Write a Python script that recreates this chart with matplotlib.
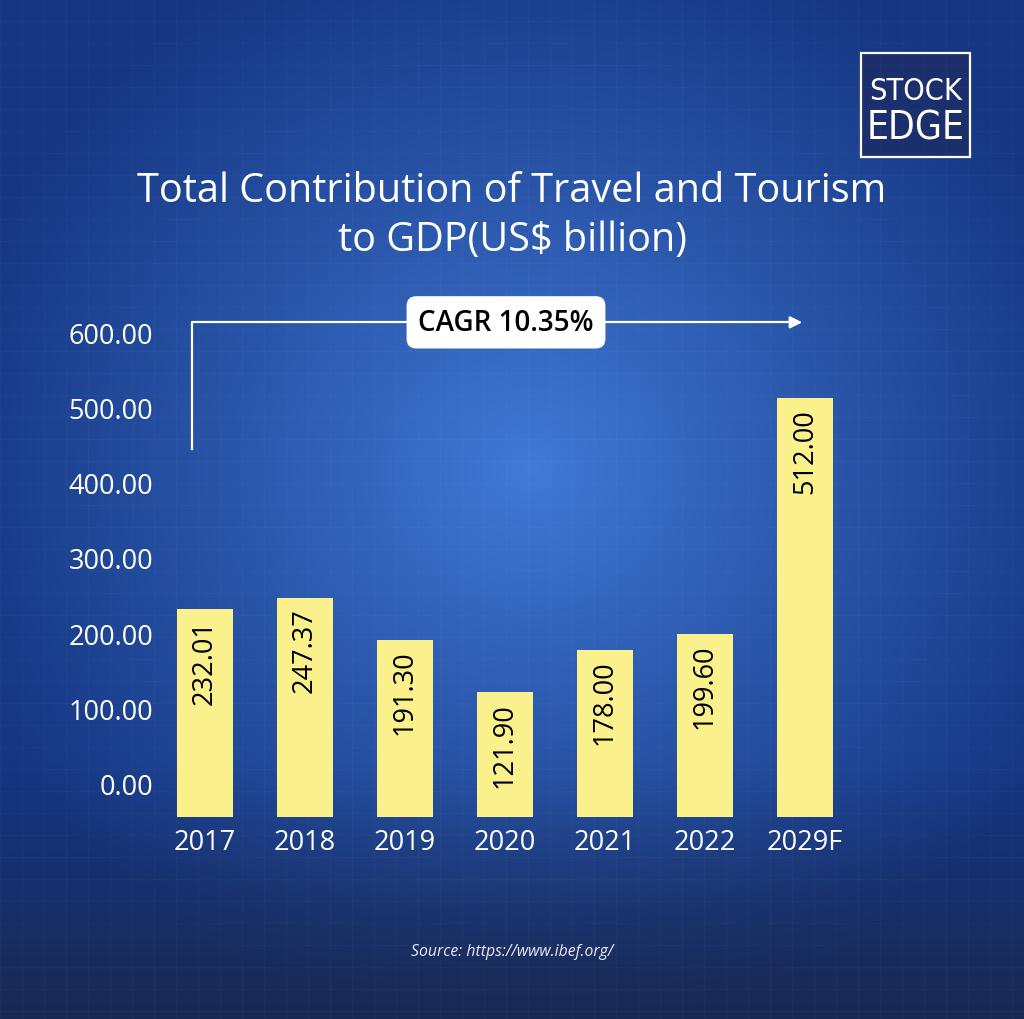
import numpy as np
import matplotlib
matplotlib.use("Agg")
import matplotlib.pyplot as plt
from matplotlib.patches import Rectangle

years = ["2017", "2018", "2019", "2020", "2021", "2022", "2029F"]
values = [232.01, 247.37, 191.30, 121.90, 178.00, 199.60, 512.00]
yticks = [0, 100, 200, 300, 400, 500, 600]
cagr_text = "CAGR 10.35%"
title = "Total Contribution of Travel and Tourism\nto GDP(US$ billion)"
source = "Source: https://www.ibef.org/"

FONT = "Open Sans"
BAR = "#faf08c"
W, H = 1024, 1020

fig = plt.figure(figsize=(W / 100, H / 100), dpi=100)

# background: radial blue glow, darker toward the bottom
yy, xx = np.mgrid[0:H, 0:W]
r = np.sqrt(((xx - 530) / 600.0) ** 2 + ((yy - 470) / 560.0) ** 2)
t = np.clip(r, 0, 1) ** 0.9
center = np.array([0x42, 0x7b, 0xd8]) / 255
edge = np.array([0x15, 0x36, 0x82]) / 255
img = center * (1 - t[..., None]) + edge * t[..., None]
navy = np.array([0x1a, 0x28, 0x50]) / 255
s = np.clip((yy - 760) / 260.0, 0, 1)[..., None] ** 1.2
img = img * (1 - s) + navy * s
bg = fig.add_axes([0, 0, 1, 1])
bg.imshow(img, aspect="auto", extent=[0, W, H, 0])
# faint grid texture
for gx in range(0, W, 22):
    bg.axvline(gx, color="white", alpha=0.025, lw=0.8)
for gy in range(0, H, 22):
    bg.axhline(gy, color="white", alpha=0.025, lw=0.8)
bg.set_xlim(0, W)
bg.set_ylim(H, 0)
bg.axis("off")

# chart
ax = fig.add_axes([160 / W, 1 - 818 / H, 705 / W, 515 / H])
ax.patch.set_alpha(0)
floor = -44
x = np.arange(len(years))
bars = ax.bar(x, [v - floor for v in values], bottom=floor, width=0.56, color=BAR)
ax.set_xlim(-0.45, 6.6)
ax.set_ylim(floor, 640)
ax.set_yticks(yticks)
ax.set_yticklabels(["%.2f" % v for v in yticks])
ax.set_xticks(x)
ax.set_xticklabels(years)
ax.tick_params(length=0, colors="white", labelsize=19.5)
ax.tick_params(axis="y", pad=5)
ax.tick_params(axis="x", pad=8)
for lab in ax.get_xticklabels() + ax.get_yticklabels():
    lab.set_fontfamily(FONT)
for sp in ax.spines.values():
    sp.set_visible(False)

for xi, v in zip(x, values):
    ax.annotate("%.2f" % v, (xi, v), xytext=(0, -7), textcoords="offset points",
                rotation=90, ha="center", va="top", fontsize=19.5,
                family=FONT, color="black")

# CAGR arrow
ax.plot([-0.13, -0.13, 5.9], [445, 613, 613], color="white", lw=1.6,
        clip_on=False)
ax.annotate("", xy=(6.0, 613), xytext=(5.85, 613),
            arrowprops=dict(arrowstyle="-|>", color="white", lw=1.6,
                            mutation_scale=18), annotation_clip=False)
ax.text(3.01, 613, cagr_text, ha="center", va="center", fontsize=20,
        family=FONT, weight="semibold", color="black",
        bbox=dict(boxstyle="round,pad=0.42,rounding_size=0.35", fc="white",
                  ec="none"))

# title and source
fig.text(0.5, 1 - 216 / H, title, ha="center", va="center", fontsize=28.5,
         family=FONT, color="white", linespacing=1.28)
fig.text(0.5, 1 - 952 / H, source, ha="center", va="center", fontsize=11.3,
         family=FONT, style="italic", color="#e8ecf5")

# logo
bg.add_patch(Rectangle((861, 54), 109, 104, fc="#1b2f6c", ec="white", lw=1.6))
bg.text(916, 92, "STOCK", ha="center", va="center", color="white",
        fontsize=22, family="DejaVu Sans", fontstretch="condensed",
        weight="light")
bg.text(916, 128, "EDGE", ha="center", va="center", color="white",
        fontsize=28, family="DejaVu Sans", fontstretch="condensed",
        weight="light")

fig.savefig("out.png", dpi=100)
